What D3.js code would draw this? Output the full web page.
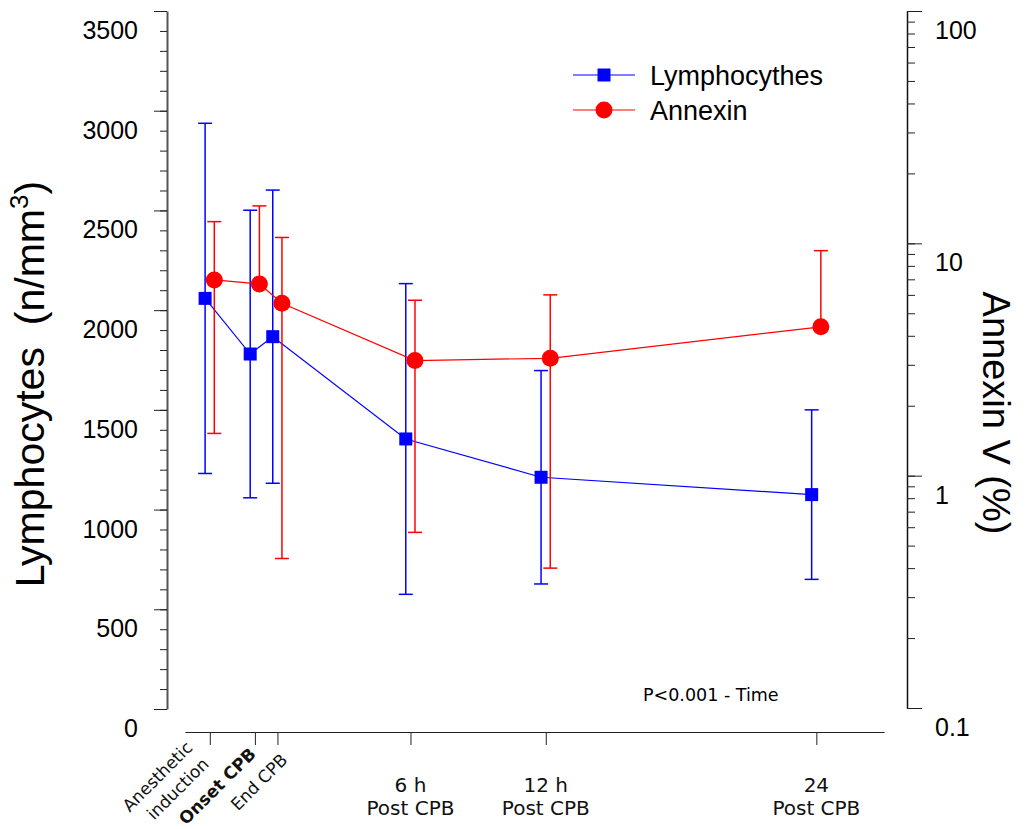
<!DOCTYPE html>
<html>
<head>
<meta charset="utf-8">
<script src="https://cdn.jsdelivr.net/npm/d3@7"></script>
<style>
  body { margin: 0; background: #fff; }
  svg { display: block; }
</style>
</head>
<body>
<svg id="chart"></svg>
<script>
// Data
const timepoints = ["Anesthetic induction", "Onset CPB", "End CPB", "6 h Post CPB", "12 h Post CPB", "24 Post CPB"];
const hours = [-2.9, -0.9, 0.1, 6, 12, 24]; // time relative to end of CPB
const lymphMean = [2059, 1780, 1867, 1354, 1162, 1075];
const lymphSD = [878, 721, 735, 779, 535, 425];
const annexinMean = [6.96, 6.69, 5.52, 3.13, 3.2, 4.37];
const annexinSD = [5.44, 7.8, 5.08, 2.56, 2.8, 4.93];
const leftTicks = [0, 500, 1000, 1500, 2000, 2500, 3000, 3500];
const rightTicks = [0.1, 1, 10, 100];
const xLabelLines = [["Anesthetic", "induction"], ["Onset CPB"], ["End CPB"], ["6 h", "Post CPB"], ["12 h", "Post CPB"], ["24", "Post CPB"]];
const rotated = [true, true, true, false, false, false];
const boldLabel = [false, true, false, false, false, false];

// Configurations
let width = 1026
let height = 829
let axisLeftX = 167
let axisRightX = 907
let axisBottomY = 732
let labelDrop = 19 // tick labels sit one minor tick below their tick, as in the figure
let blue = "#0000ff"
let red = "#ff0000"
let numFont = "'Liberation Sans', Arial, sans-serif"
let catFont = "'DejaVu Sans', Verdana, sans-serif"
let rotShift = [[0, 765], [2, 755], [11, 761]] // end point of last line: dx from tick, y

const x = d3.scaleLinear([-4, 27], [185, 884]);
const yL = d3.scaleLinear([0, 3500], [709, 11]);
const yR = d3.scaleLog([0.1, 100], [708, 11]);

const svg = d3.select("#chart")
    .attr("width", width)
    .attr("height", height)
    .attr("viewBox", [0, 0, width, height]);

// Left axis
const gl = svg.append("g").attr("transform", `translate(${axisLeftX},0)`);
gl.call(d3.axisLeft(yL).tickValues(d3.range(0, 3501, 100)).tickSize(7).tickSizeOuter(0).tickFormat(""))
    .call(g => g.select(".domain").attr("stroke", "#555").attr("stroke-width", 2));
gl.append("g").call(d3.axisLeft(yL).tickValues(leftTicks).tickSize(13).tickSizeOuter(0).tickFormat(""))
    .call(g => g.select(".domain").remove());
gl.selectAll(".tick line").attr("stroke", "#222");
svg.append("g")
    .selectAll("text")
    .data(leftTicks)
    .join("text")
    .attr("x", 138)
    .attr("y", d => yL(d) + labelDrop)
    .attr("dy", "0.36em")
    .attr("text-anchor", "end")
    .attr("font-family", numFont)
    .attr("font-size", 25)
    .text(d => d);

// Right axis (log)
const gr = svg.append("g").attr("transform", `translate(${axisRightX},0)`);
gr.call(d3.axisRight(yR).tickValues(yR.ticks()).tickSize(8).tickSizeOuter(0).tickFormat(""))
    .call(g => g.select(".domain").attr("stroke", "#111").attr("stroke-width", 1.5));
gr.append("g").call(d3.axisRight(yR).tickValues(rightTicks).tickSize(15).tickSizeOuter(0).tickFormat(""))
    .call(g => g.select(".domain").remove());
gr.selectAll(".tick line").attr("stroke", "#222");
svg.append("g")
    .selectAll("text")
    .data(rightTicks)
    .join("text")
    .attr("x", 935)
    .attr("y", d => yR(d) + labelDrop)
    .attr("dy", "0.36em")
    .attr("font-family", numFont)
    .attr("font-size", 25)
    .text(d => d);

// Bottom axis
svg.append("g")
    .attr("transform", `translate(0,${axisBottomY})`)
    .call(d3.axisBottom(x).tickValues(hours).tickSize(13).tickSizeOuter(0).tickFormat(""))
    .call(g => g.select(".domain").attr("stroke", "#222").attr("stroke-width", 1.2))
    .call(g => g.selectAll(".tick line").attr("stroke", "#222"));

// Category labels
const lab = svg.append("g").attr("font-family", catFont).attr("fill", "#111");
timepoints.forEach((t, i) => {
    const lines = xLabelLines[i];
    if (rotated[i]) {
        const [dx, yEnd] = rotShift[i];
        const g = lab.append("g")
            .attr("transform", `translate(${x(hours[i]) + dx},${yEnd}) rotate(-45)`);
        g.selectAll("text")
            .data(lines)
            .join("text")
            .attr("text-anchor", "end")
            .attr("font-size", 17)
            .attr("font-weight", boldLabel[i] ? "bold" : "normal")
            .attr("y", (d, j) => (j - lines.length + 1) * 23)
            .text(d => d);
    } else {
        lab.selectAll(null)
            .data(lines)
            .join("text")
            .attr("x", x(hours[i]))
            .attr("y", (d, j) => 792 + j * 23)
            .attr("text-anchor", "middle")
            .attr("font-size", 20)
            .text(d => d);
    }
});

// Lymphocytes series
const gLy = svg.append("g").attr("transform", "translate(-4.7,0)");
gLy.append("path")
    .attr("fill", "none")
    .attr("stroke", blue)
    .attr("stroke-width", 1.2)
    .attr("d", d3.line((d, i) => x(hours[i]), d => yL(d))(lymphMean));
const lyBars = gLy.append("g").attr("stroke", blue).attr("stroke-width", 1.5)
    .selectAll("g").data(lymphMean).join("g");
lyBars.append("line")
    .attr("x1", (d, i) => x(hours[i])).attr("x2", (d, i) => x(hours[i]))
    .attr("y1", (d, i) => yL(d + lymphSD[i])).attr("y2", (d, i) => yL(d - lymphSD[i]));
lyBars.append("line")
    .attr("x1", (d, i) => x(hours[i]) - 7).attr("x2", (d, i) => x(hours[i]) + 7)
    .attr("y1", (d, i) => yL(d + lymphSD[i])).attr("y2", (d, i) => yL(d + lymphSD[i]));
lyBars.append("line")
    .attr("x1", (d, i) => x(hours[i]) - 7).attr("x2", (d, i) => x(hours[i]) + 7)
    .attr("y1", (d, i) => yL(d - lymphSD[i])).attr("y2", (d, i) => yL(d - lymphSD[i]));
gLy.append("g")
    .selectAll("rect")
    .data(lymphMean)
    .join("rect")
    .attr("x", (d, i) => x(hours[i]) - 6.5)
    .attr("y", d => yL(d) - 6.5)
    .attr("width", 13)
    .attr("height", 13)
    .attr("fill", blue);

// Annexin series (log axis, lower bar only where mean - SD > 0)
const gAn = svg.append("g").attr("transform", "translate(4.5,0)");
gAn.append("path")
    .attr("fill", "none")
    .attr("stroke", red)
    .attr("stroke-width", 1.2)
    .attr("d", d3.line((d, i) => x(hours[i]), d => yR(d))(annexinMean));
const anBars = gAn.append("g").attr("stroke", red).attr("stroke-width", 1.5)
    .selectAll("g").data(annexinMean).join("g");
anBars.append("line")
    .attr("x1", (d, i) => x(hours[i])).attr("x2", (d, i) => x(hours[i]))
    .attr("y1", (d, i) => yR(d + annexinSD[i])).attr("y2", d => yR(d));
anBars.append("line")
    .attr("x1", (d, i) => x(hours[i]) - 7).attr("x2", (d, i) => x(hours[i]) + 7)
    .attr("y1", (d, i) => yR(d + annexinSD[i])).attr("y2", (d, i) => yR(d + annexinSD[i]));
anBars.each(function(d, i) {
    if (d - annexinSD[i] <= 0) return;
    const g = d3.select(this);
    g.append("line")
        .attr("x1", x(hours[i])).attr("x2", x(hours[i]))
        .attr("y1", yR(d)).attr("y2", yR(d - annexinSD[i]));
    g.append("line")
        .attr("x1", x(hours[i]) - 7).attr("x2", x(hours[i]) + 7)
        .attr("y1", yR(d - annexinSD[i])).attr("y2", yR(d - annexinSD[i]));
});
gAn.append("g")
    .selectAll("circle")
    .data(annexinMean)
    .join("circle")
    .attr("cx", (d, i) => x(hours[i]))
    .attr("cy", d => yR(d))
    .attr("r", 8.5)
    .attr("fill", red);

// Legend
const legend = svg.append("g").attr("font-family", numFont).attr("font-size", 27);
[["Lymphocythes", blue, "square", 75], ["Annexin", red, "circle", 110]].forEach(([name, c, shape, ly]) => {
    legend.append("line").attr("x1", 573).attr("x2", 635).attr("y1", ly).attr("y2", ly)
        .attr("stroke", c).attr("stroke-width", 1.2);
    if (shape === "square") legend.append("rect").attr("x", 597.5).attr("y", ly - 6.5)
        .attr("width", 13).attr("height", 13).attr("fill", c);
    else legend.append("circle").attr("cx", 604).attr("cy", ly).attr("r", 8.5).attr("fill", c);
    legend.append("text").attr("x", 650).attr("y", ly).attr("dy", "0.36em").text(name);
});

// Axis titles
const tl = svg.append("text")
    .attr("transform", "translate(44,384) rotate(-90)")
    .attr("text-anchor", "middle")
    .attr("font-family", numFont)
    .attr("font-size", 41);
tl.append("tspan").text("Lymphocytes");
tl.append("tspan").attr("dx", 22).text("(n/mm");
tl.append("tspan").attr("font-size", 26).attr("dy", -16).text("3");
tl.append("tspan").attr("dy", 16).text(")");

svg.append("text")
    .attr("transform", "translate(983,413) rotate(90)")
    .attr("text-anchor", "middle")
    .attr("font-family", numFont)
    .attr("font-size", 38)
    .text("Annexin V (%)");

svg.append("text")
    .attr("x", 643)
    .attr("y", 695)
    .attr("dy", "0.36em")
    .attr("font-family", catFont)
    .attr("font-size", 17.5)
    .text("P<0.001 - Time");
</script>
</body>
</html>
